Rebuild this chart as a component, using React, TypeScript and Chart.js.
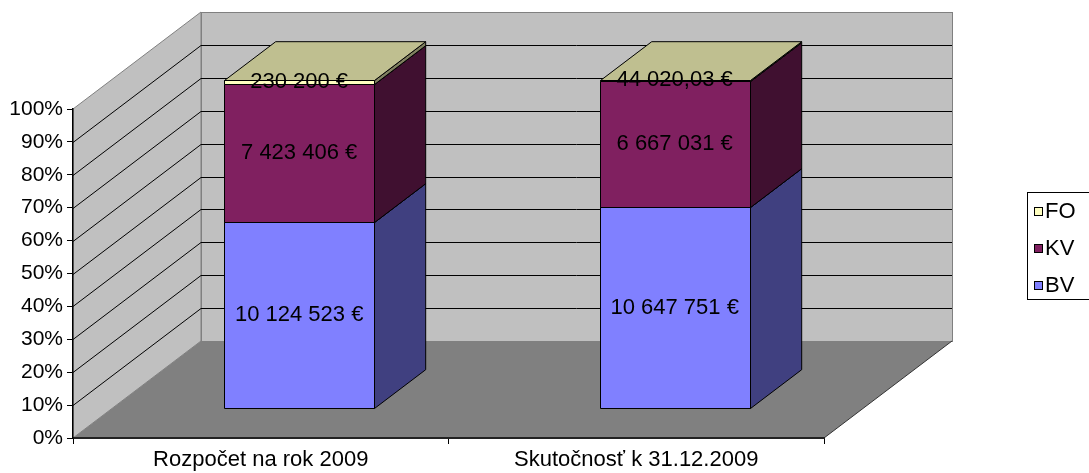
import React, { useEffect, useRef } from "react";
import { Chart, registerables } from "chart.js";

Chart.register(...registerables);

const categories = ["Rozpočet na rok 2009", "Skutočnosť k 31.12.2009"];
const seriesNames = ["BV", "KV", "FO"];
const bvValues = [10124523, 10647751];
const kvValues = [7423406, 6667031];
const foValues = [230200, 44020.03];
const yTickValues = [0, 10, 20, 30, 40, 50, 60, 70, 80, 90, 100];

const frontColors = ["#8080FF", "#802060", "#FFFFC0"];
const FONT = "'Liberation Sans', Arial, sans-serif";

const DX = 128;
const DY = 97;
const Z0 = 0.3;
const ZD = 0.4;

function shade(hex: string, f: number): string {
  const n = parseInt(hex.slice(1), 16);
  const r = Math.round(((n >> 16) & 255) * f);
  const g = Math.round(((n >> 8) & 255) * f);
  const b = Math.round((n & 255) * f);
  return `rgb(${r},${g},${b})`;
}

function fmt(v: number): string {
  const neg = v < 0;
  const abs = Math.abs(v);
  const intPart = Math.floor(abs);
  const frac = Math.round((abs - intPart) * 100);
  const s = String(intPart).replace(/\B(?=(\d{3})+(?!\d))/g, " ");
  const dec = frac > 0 ? "," + String(frac).padStart(2, "0") : "";
  return (neg ? "-" : "") + s + dec + " €";
}

const rawSeries = [bvValues, kvValues, foValues];
const totals = categories.map((_, i) => bvValues[i] + kvValues[i] + foValues[i]);
const pctSeries = rawSeries.map((arr) => arr.map((v, i) => (v / totals[i]) * 100));

const threeDPlugin = {
  id: "threeD",
  beforeDraw(chart: any) {
    const { ctx, chartArea: a, scales } = chart;
    const y = scales.y;
    ctx.save();
    ctx.lineWidth = 1;
    // back wall
    ctx.fillStyle = "#C0C0C0";
    ctx.strokeStyle = "#808080";
    const bl = Math.round(a.left + DX) + 0.5;
    const bt = Math.round(a.top - DY) + 0.5;
    const bw = Math.round(a.right - a.left);
    const bh = Math.round(a.bottom - a.top);
    ctx.fillRect(bl, bt, bw, bh);
    ctx.strokeRect(bl, bt, bw, bh);
    // side wall
    ctx.beginPath();
    ctx.moveTo(a.left, a.bottom);
    ctx.lineTo(a.left, a.top);
    ctx.lineTo(a.left + DX, a.top - DY);
    ctx.lineTo(a.left + DX, a.bottom - DY);
    ctx.closePath();
    ctx.fill();
    ctx.stroke();
    // floor
    ctx.fillStyle = "#808080";
    ctx.strokeStyle = "#333333";
    ctx.beginPath();
    ctx.moveTo(a.left, a.bottom);
    ctx.lineTo(a.left + DX, a.bottom - DY);
    ctx.lineTo(a.right + DX, a.bottom - DY);
    ctx.lineTo(a.right, a.bottom);
    ctx.closePath();
    ctx.fill();
    ctx.beginPath();
    ctx.moveTo(a.right + DX, a.bottom - DY);
    ctx.lineTo(a.right, a.bottom);
    ctx.stroke();
    // gridlines
    ctx.strokeStyle = "#000000";
    yTickValues.forEach((v) => {
      if (v === 0 || v === 100) return;
      const py = Math.round(y.getPixelForValue(v)) + 0.5;
      ctx.beginPath();
      ctx.moveTo(a.left, py);
      ctx.lineTo(a.left + DX, py - DY);
      ctx.lineTo(a.right + DX, py - DY);
      ctx.stroke();
    });
    ctx.restore();
  },
  beforeDatasetsDraw(chart: any) {
    const { ctx } = chart;
    ctx.save();
    ctx.lineWidth = 1;
    ctx.strokeStyle = "#000000";
    ctx.lineJoin = "miter";
    const n = chart.data.labels.length;
    const bdx = ZD * DX;
    const bdy = ZD * DY;
    for (let i = 0; i < n; i++) {
      chart.data.datasets.forEach((ds: any, d: number) => {
        const el = chart.getDatasetMeta(d).data[i];
        const p = el.getProps(["x", "y", "base", "width"], true);
        const left = Math.round(p.x - p.width / 2 + Z0 * DX) + 0.5;
        const right = Math.round(p.x + p.width / 2 + Z0 * DX) + 0.5;
        const top = Math.round(p.y - Z0 * DY) + 0.5;
        const bottom = Math.round(p.base - Z0 * DY) + 0.5;
        const col = ds.faceColor;
        // front
        ctx.fillStyle = col;
        ctx.beginPath();
        ctx.rect(left, top, right - left, bottom - top);
        ctx.fill();
        ctx.stroke();
        // side
        ctx.fillStyle = shade(col, 0.5);
        ctx.beginPath();
        ctx.moveTo(right, top);
        ctx.lineTo(right + bdx, top - bdy);
        ctx.lineTo(right + bdx, bottom - bdy);
        ctx.lineTo(right, bottom);
        ctx.closePath();
        ctx.fill();
        ctx.stroke();
        // top
        ctx.fillStyle = shade(col, 0.75);
        ctx.beginPath();
        ctx.moveTo(left, top);
        ctx.lineTo(right, top);
        ctx.lineTo(right + bdx, top - bdy);
        ctx.lineTo(left + bdx, top - bdy);
        ctx.closePath();
        ctx.fill();
        ctx.stroke();
      });
    }
    ctx.restore();
  },
  afterDatasetsDraw(chart: any) {
    const { ctx } = chart;
    ctx.save();
    ctx.fillStyle = "#000000";
    ctx.font = `22px ${FONT}`;
    ctx.textAlign = "center";
    ctx.textBaseline = "middle";
    chart.data.datasets.forEach((ds: any, d: number) => {
      chart.getDatasetMeta(d).data.forEach((el: any, i: number) => {
        const p = el.getProps(["x", "y", "base"], true);
        const cx = p.x + Z0 * DX;
        const cy = (p.y + p.base) / 2 - Z0 * DY;
        ctx.fillText(fmt(ds.rawValues[i]), cx, cy);
      });
    });
    ctx.restore();
  },
  afterDraw(chart: any) {
    const { ctx } = chart;
    ctx.save();
    const boxL = 1027.5;
    const boxT = 192.5;
    ctx.fillStyle = "#FFFFFF";
    ctx.strokeStyle = "#000000";
    ctx.lineWidth = 1;
    ctx.fillRect(boxL, boxT, 80, 107);
    ctx.strokeRect(boxL, boxT, 80, 107);
    ctx.font = `22px ${FONT}`;
    ctx.textBaseline = "middle";
    ctx.textAlign = "left";
    const items = chart.data.datasets.slice().reverse();
    items.forEach((ds: any, k: number) => {
      const cy = 211 + k * 37;
      ctx.fillStyle = ds.faceColor;
      ctx.fillRect(1034.5, Math.round(cy - 4) + 0.5, 8, 8);
      ctx.strokeRect(1034.5, Math.round(cy - 4) + 0.5, 8, 8);
      ctx.fillStyle = "#000000";
      ctx.fillText(ds.label, 1045, cy + 1);
    });
    ctx.restore();
  },
};

export default function App() {
  const canvasRef = useRef<HTMLCanvasElement | null>(null);

  useEffect(() => {
    const canvas = canvasRef.current;
    if (!canvas) return;
    const chart = new Chart(canvas, {
      type: "bar",
      data: {
        labels: categories,
        datasets: seriesNames.map((name, d) => ({
          label: name,
          data: pctSeries[d],
          rawValues: rawSeries[d],
          faceColor: frontColors[d],
          backgroundColor: "rgba(0,0,0,0)",
          borderWidth: 0,
          categoryPercentage: 1,
          barPercentage: 0.4,
        })) as any,
      },
      options: {
        responsive: false,
        animation: false,
        devicePixelRatio: 1,
        layout: { padding: { left: 0, top: 109, right: 265, bottom: 0 } },
        plugins: { legend: { display: false }, tooltip: { enabled: false } },
        scales: {
          x: {
            stacked: true,
            afterFit: (s: any) => {
              s.height = 35;
            },
            grid: {
              offset: true,
              drawOnChartArea: false,
              drawTicks: true,
              tickLength: 6,
              tickColor: "#000000",
            },
            border: { display: true, color: "#222222", width: 2 },
            ticks: {
              color: "#000000",
              padding: 3,
              maxRotation: 0,
              autoSkip: false,
              font: { family: FONT, size: 22 },
            },
          },
          y: {
            stacked: true,
            min: 0,
            max: 100,
            afterFit: (s: any) => {
              s.width = 73;
            },
            afterBuildTicks: (s: any) => {
              s.ticks = yTickValues.map((v) => ({ value: v }));
            },
            grid: {
              drawOnChartArea: false,
              drawTicks: true,
              tickLength: 6,
              tickColor: "#000000",
            },
            border: { display: true, color: "#000000", width: 1.5 },
            ticks: {
              color: "#000000",
              padding: 4,
              font: { family: FONT, size: 21 },
              callback: (v: any) => v + "%",
            },
          },
        },
      },
      plugins: [threeDPlugin],
    });
    return () => chart.destroy();
  }, []);

  return (
    <div style={{ position: "absolute", left: 0, top: 0, width: 1089, height: 473, background: "#FFFFFF" }}>
      <canvas ref={canvasRef} width={1089} height={473} style={{ display: "block" }} />
    </div>
  );
}
